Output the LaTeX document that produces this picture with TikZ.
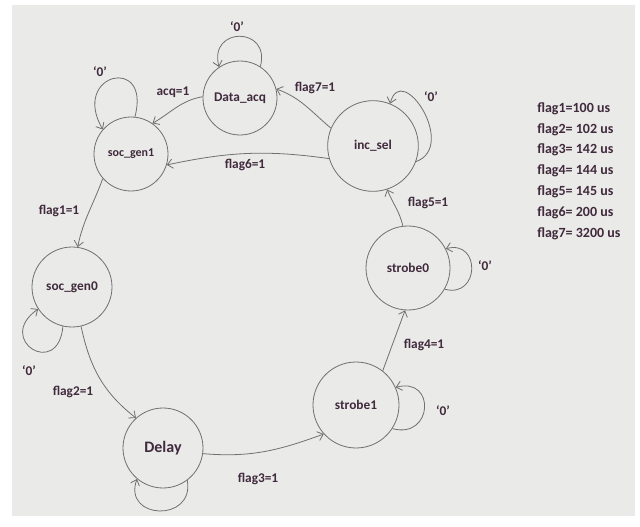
\documentclass[tikz,border=0pt]{standalone}
\usepackage{fontspec}
\setmainfont{Carlito}
\usetikzlibrary{arrows.meta}
\definecolor{paper}{RGB}{234,234,233}
\definecolor{inkline}{RGB}{112,112,112}
\definecolor{inktext}{RGB}{64,42,60}

\begin{document}
\begin{tikzpicture}[
    x=0.75pt, y=0.75pt,
    font=\fontsize{10}{12}\selectfont\bfseries,
    state/.style={draw=inkline, circle, line width=0.6pt, inner sep=0pt,
                  text=inktext},
    arr/.style={-{Straight Barb[length=4pt,width=7pt]}, draw=inkline,
                line width=0.6pt},
    lbl/.style={text=inktext, inner sep=1pt},
  ]
  \useasboundingbox (0,0) rectangle (640,526);
  \fill[paper] (12,10) rectangle (635,521);

  %% states
  \node[state, minimum size=55.5pt] (dacq) at (240,428) {Data\_acq};
  \node[state, minimum size=55.5pt, font=\fontsize{9}{11}\selectfont\bfseries]
    (sg1) at (131,372) {soc\_gen1};
  \node[state, minimum size=68pt] (inc) at (373,380) {inc\_sel};
  \node[state, minimum size=63pt] (s0) at (408,258) {strobe0};
  \node[state, minimum size=64.5pt] (s1) at (356,121) {strobe1};
  \node[state, minimum size=60pt, font=\fontsize{12}{14}\selectfont\bfseries]
    (delay) at (163,78) {Delay};
  \node[state, minimum size=60pt] (sg0) at (72,239) {soc\_gen0};

  %% transitions
  \draw[arr] (dacq.178) to[out=190, in=30] (sg1.55);
  \draw[arr] (inc.157)  to[out=140, in=-20] (dacq.14);
  \draw[arr] (inc.196)  to[out=172, in=12] (sg1.-17);
  \draw[arr] (sg1.221)  to[out=250, in=78] (sg0.82);
  \draw[arr] (sg0.-77)  to[out=-78, in=142] (delay.132);
  \draw[arr] (delay.-8) to[out=-5, in=200] (s1.222);
  \draw[arr] (s1.52) -- (s0.266);
  \draw[arr] (s0.97)    to[out=103, in=-68] (inc.-72);

  \node[lbl] (lacq) at (173,434) {acq=1};
  \node[lbl] (lf7)  at (315,438) {flag7=1};
  \node[lbl] (lf6)  at (245,361) {flag6=1};
  \node[lbl] (lf1)  at (59,315)  {flag1=1};
  \node[lbl] (lf2)  at (73,134)  {flag2=1};
  \node[lbl] (lf3)  at (258,47)  {flag3=1};
  \node[lbl] (lf4)  at (424,181) {flag4=1};
  \node[lbl] (lf5)  at (428,323) {flag5=1};

  %% self loops
  \draw[arr] (sg1.84)    to[out=75, in=120, looseness=4.8] (sg1.139);
  \draw[arr] (dacq.57)   to[out=75, in=105, looseness=2.6] (dacq.124);
  \draw[arr] (inc.-20)   to[out=20, in=75, looseness=1.8] (inc.68);
  \draw[arr] (s0.-30)    to[out=-15, in=15, looseness=2.3] (s0.27);
  \draw[arr] (s1.-33)    to[out=-15, in=15, looseness=2.6] (s1.24);
  \draw[arr] (delay.-53) to[out=-80, in=-110, looseness=2.2] (delay.-130);
  \draw[arr] (sg0.257)   to[out=265, in=215, looseness=4.5] (sg0.213);

  \node[lbl] (z1) at (100,454) {`0'};
  \node[lbl] (z2) at (237,499) {`0'};
  \node[lbl] (z3) at (431,429) {`0'};
  \node[lbl] (z4) at (485,260) {`0'};
  \node[lbl] (z5) at (443,115) {`0'};
  \node[lbl] (z6) at (29,155)  {`0'};

  %% timing table
  \node[lbl, anchor=west, align=left, inner sep=0pt,
        font=\fontsize{10.5}{15.6}\selectfont\bfseries] (times) at (537,355)
    {flag1=100 us\\flag2= 102 us\\flag3= 142 us\\flag4= 144 us\\
     flag5= 145 us\\flag6= 200 us\\flag7= 3200 us};
\end{tikzpicture}
\end{document}
